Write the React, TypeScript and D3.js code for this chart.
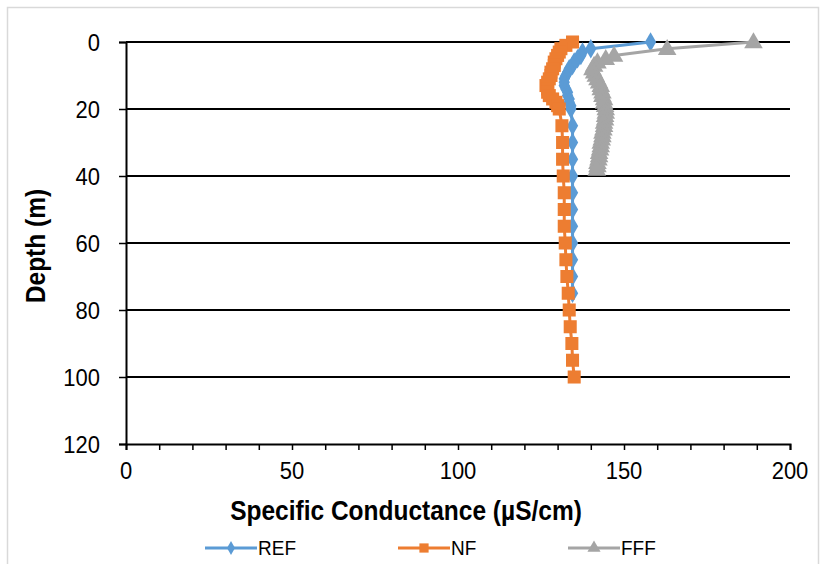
import React, { useEffect, useRef } from "react";
import * as d3 from "d3";

const refDepth = [0, 2, 3, 4, 5, 6, 7, 8, 9, 10, 11, 12, 13, 14, 15, 16, 17, 18, 19, 20, 25, 30, 35, 40, 45, 50, 55, 60, 65, 70, 75];
const refSC = [158, 140, 137.5, 137, 136, 135, 134.5, 133.5, 133, 132.5, 132, 132, 132, 132.5, 133, 133, 133.5, 133.5, 134, 134, 134.5, 134.5, 134.5, 134.5, 134.5, 134.5, 134.5, 134.5, 134.5, 134.5, 134.5];

const nfDepth = [0, 1, 2, 3, 4, 5, 6, 7, 8, 9, 10, 11, 12, 13, 14, 15, 16, 17, 18, 19, 20, 25, 30, 35, 40, 45, 50, 55, 60, 65, 70, 75, 80, 85, 90, 95, 100];
const nfSC = [134.5, 132.5, 131, 130.5, 130, 129.5, 129, 129, 128.5, 128, 128, 127.5, 127, 126.5, 127, 127, 127.5, 128.5, 129.5, 130, 130.5, 131.3, 131.5, 131.5, 131.7, 132, 132, 132, 132.3, 132.5, 132.8, 133.2, 133.5, 133.8, 134.3, 134.5, 135];

const fffDepth = [0, 2, 4, 5, 6, 7, 8, 9, 10, 11, 12, 13, 14, 15, 16, 17, 18, 19, 20, 21, 22, 23, 24, 25, 26, 27, 28, 29, 30, 31, 32, 33, 34, 35, 36, 37, 38];
const fffSC = [189, 163, 147, 144.5, 142, 141, 140.5, 141, 141.5, 142, 142.5, 143, 143, 143.5, 143.5, 144, 144, 144.3, 144.5, 144.5, 144.3, 144.3, 144, 144, 143.8, 143.5, 143.5, 143.3, 143, 143, 142.8, 142.5, 142.5, 142.3, 142, 142, 141.8];

const xTicks = [0, 50, 100, 150, 200];
const xMinorTicks = d3.range(0, 201, 10);
const yTicks = [0, 20, 40, 60, 80, 100, 120];

const seriesNames = ["REF", "NF", "FFF"];
const seriesColors = ["#5B9BD5", "#ED7D31", "#A5A5A5"];

export default function App() {
  const ref = useRef<SVGSVGElement>(null);

  useEffect(() => {
    const svg = d3.select(ref.current);
    svg.selectAll("*").remove();
    const W = 825, H = 564;
    const left = 126, right = 790, top = 42, bottom = 444;
    const x = d3.scaleLinear().domain([0, 200]).range([left, right]);
    const y = d3.scaleLinear().domain([0, 120]).range([top, bottom]);

    svg.append("rect").attr("x", 0).attr("y", 0).attr("width", W).attr("height", H).attr("fill", "#fff");
    svg.append("rect").attr("x", 7.5).attr("y", 7.5).attr("width", 811).attr("height", 580)
      .attr("fill", "none").attr("stroke", "#d9d9d9").attr("stroke-width", 1.5);

    // gridlines
    svg.append("g").selectAll("line").data(yTicks.slice(0, -1)).join("line")
      .attr("x1", left).attr("x2", right).attr("y1", (d) => y(d)).attr("y2", (d) => y(d))
      .attr("stroke", "#000").attr("stroke-width", 2);

    const font = "Liberation Sans, Arial, sans-serif";
    const xAxis = d3.axisBottom(x).tickValues(xMinorTicks).tickSize(6).tickFormat(() => "");
    const gx = svg.append("g").attr("transform", `translate(0,${bottom})`).call(xAxis);
    gx.select(".domain").attr("stroke", "#000").attr("stroke-width", 2);
    gx.selectAll(".tick line").attr("stroke", "#000").attr("stroke-width", 1.5);
    svg.append("g").selectAll("text").data(xTicks).join("text")
      .attr("transform", (d) => `translate(${x(d)},${bottom + 35}) scale(1,1.12)`)
      .attr("text-anchor", "middle")
      .attr("font-family", font).attr("font-size", 22).attr("fill", "#000").text((d) => String(d));

    const yAxis = d3.axisLeft(y).tickValues(yTicks).tickSize(7).tickFormat(() => "");
    const gy = svg.append("g").attr("transform", `translate(${left},0)`).call(yAxis);
    gy.select(".domain").attr("stroke", "#000").attr("stroke-width", 2);
    gy.selectAll(".tick line").attr("stroke", "#000").attr("stroke-width", 1.5);
    svg.append("g").selectAll("text").data(yTicks).join("text")
      .attr("transform", (d) => `translate(100,${y(d) + 9}) scale(1,1.12)`)
      .attr("text-anchor", "end")
      .attr("font-family", font).attr("font-size", 22).attr("fill", "#000").text((d) => String(d));

    svg.append("text")
      .attr("transform", `translate(${(left + right) / 2 - 52},520) scale(1,1.1)`)
      .attr("text-anchor", "middle")
      .attr("font-family", font).attr("font-weight", "bold").attr("font-size", 24.5).attr("fill", "#000")
      .text("Specific Conductance (µS/cm)");
    svg.append("text").attr("transform", `translate(45,${(top + bottom) / 2 + 3}) rotate(-90) scale(1,1.1)`)
      .attr("text-anchor", "middle")
      .attr("font-family", font).attr("font-weight", "bold").attr("font-size", 24.5).attr("fill", "#000")
      .text("Depth (m)");

    const symbols = [d3.symbolDiamond, d3.symbolSquare, d3.symbolTriangle];
    const sizes = [110, 170, 150];
    const data = [
      refDepth.map((d, i) => [refSC[i], d]),
      nfDepth.map((d, i) => [nfSC[i], d]),
      fffDepth.map((d, i) => [fffSC[i], d]),
    ];
    const line = d3.line<number[]>().x((d) => x(d[0])).y((d) => y(d[1]));
    data.forEach((pts, si) => {
      const g = svg.append("g");
      g.append("path").attr("d", line(pts)).attr("fill", "none")
        .attr("stroke", seriesColors[si]).attr("stroke-width", 3).attr("stroke-linejoin", "round");
      g.selectAll("path.m").data(pts).join("path").attr("class", "m")
        .attr("d", d3.symbol().type(symbols[si]).size(sizes[si]))
        .attr("transform", (d) => `translate(${x(d[0])},${y(d[1]) + (si === 2 ? 1 : 0)})`)
        .attr("fill", seriesColors[si]);
    });

    const legX = [205, 398, 568];
    seriesNames.forEach((name, si) => {
      const lx = legX[si], ly = 548;
      svg.append("line").attr("x1", lx).attr("x2", lx + 52).attr("y1", ly).attr("y2", ly)
        .attr("stroke", seriesColors[si]).attr("stroke-width", 3);
      svg.append("path").attr("d", d3.symbol().type(symbols[si]).size(sizes[si] * 0.5)())
        .attr("transform", `translate(${lx + 26},${ly})`).attr("fill", seriesColors[si]);
      svg.append("text").attr("transform", `translate(${lx + 53},${ly + 7}) scale(1,1.1)`)
        .attr("font-family", font).attr("font-size", 19).attr("fill", "#000").text(name);
    });
  }, []);

  return (
    <svg ref={ref} width={825} height={564}
      style={{ position: "absolute", left: 0, top: 0, display: "block" }} />
  );
}
